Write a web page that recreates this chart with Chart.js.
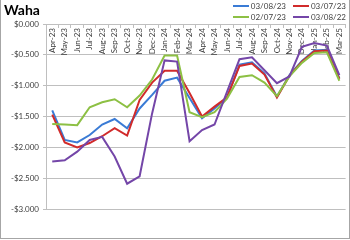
<!DOCTYPE html>
<html>
<head>
<meta charset="utf-8">
<script src="https://cdn.jsdelivr.net/npm/chart.js@4/dist/chart.umd.min.js"></script>
<style>
  body { margin: 0; background: #fff; }
  #wrap { position: relative; width: 350px; height: 240px; font-family: Lato, sans-serif; overflow: hidden; }
  #frame { position: absolute; left: 0; top: -1px; width: 350px; height: 240px; box-sizing: border-box; border: 1px solid #a6a6a6; pointer-events: none; }
  #title { position: absolute; left: 4px; top: 1px; font-weight: bold; font-size: 14px; line-height: 18px; color: #000; }
  #legend { position: absolute; right: 4px; top: 1px; display: grid; grid-template-columns: auto auto; column-gap: 7px; font-size: 8px; line-height: 10.5px; color: #404040; }
  .item { display: flex; align-items: center; }
  .swatch { width: 16px; height: 2px; margin-right: 2px; }
</style>
</head>
<body>
<div id="wrap">
  <canvas id="chart" width="350" height="240"></canvas>
  <div id="title">Waha</div>
  <div id="legend"></div>
  <div id="frame"></div>
</div>
<script>
// --- DATI ---
const months = ['Apr-23', 'May-23', 'Jun-23', 'Jul-23', 'Aug-23', 'Sep-23', 'Oct-23', 'Nov-23',
    'Dec-23', 'Jan-24', 'Feb-24', 'Mar-24', 'Apr-24', 'May-24', 'Jun-24', 'Jul-24', 'Aug-24',
    'Sep-24', 'Oct-24', 'Nov-24', 'Dec-24', 'Jan-25', 'Feb-25', 'Mar-25'];

const seriesNames = ['03/08/23', '03/07/23', '02/07/23', '03/08/22'];
const seriesColors = ['#3a7bd5', '#d12b2b', '#8dc044', '#7446a8'];

const curve030823 = [-1.40, -1.88, -1.92, -1.80, -1.63, -1.54, -1.69, -1.37, -1.15, -0.92, -0.87, -1.20,
    -1.53, -1.37, -1.19, -0.66, -0.62, -0.80, -1.18, -0.83, -0.60, -0.43, -0.42, -0.88];
const curve030723 = [-1.47, -1.92, -2.00, -1.93, -1.82, -1.69, -1.81, -1.23, -0.95, -0.76, -0.76, -1.12,
    -1.50, -1.34, -1.19, -0.68, -0.64, -0.82, -1.19, -0.84, -0.61, -0.44, -0.43, -0.89];
const curve020723 = [-1.62, -1.63, -1.64, -1.35, -1.27, -1.22, -1.35, -1.16, -0.90, -0.51, -0.51, -1.43,
    -1.51, -1.43, -1.21, -0.86, -0.83, -0.95, -1.17, -0.85, -0.63, -0.47, -0.46, -0.92];
const curve030822 = [-2.23, -2.21, -2.07, -1.88, -1.83, -2.15, -2.59, -2.47, -1.45, -0.59, -0.61, -1.90,
    -1.72, -1.63, -1.10, -0.57, -0.54, -0.75, -0.96, -0.85, -0.37, -0.31, -0.35, -0.83];

const curves = [curve030823, curve030723, curve020723, curve030822];

// --- GRAFICO ---
Chart.defaults.font.family = 'Lato, sans-serif';
Chart.defaults.font.size = 8;
Chart.defaults.color = '#404040';

const gridColor = '#bfbfbf';

const datasets = curves.map((data, i) => ({
    label: seriesNames[i],
    data: data,
    borderColor: seriesColors[i],
    backgroundColor: seriesColors[i],
    borderWidth: 2,
    pointRadius: 0,
    tension: 0,
    fill: false,
    order: curves.length - i   // l'ultima serie sta sopra, come in Excel
}));

const chart = new Chart(document.getElementById('chart').getContext('2d'), {
    type: 'line',
    data: { labels: months, datasets: datasets },
    options: {
        responsive: false,
        animation: false,
        layout: { padding: { top: 24, right: 2, bottom: 31, left: 0 } },
        plugins: { legend: { display: false }, tooltip: { enabled: false } },
        scales: {
            x: {
                position: { y: 0 },
                offset: true,
                grid: { drawOnChartArea: false, drawTicks: true, tickLength: 3, color: gridColor, offset: true },
                border: { color: gridColor },
                ticks: { minRotation: 90, maxRotation: 90, autoSkip: false, padding: 1 }
            },
            y: {
                min: -3,
                max: 0,
                afterFit: s => { s.width = 46; },
                grid: { color: gridColor, tickLength: 3 },
                border: { color: gridColor },
                ticks: {
                    stepSize: 0.5,
                    padding: 4,
                    callback: v => (v < 0 ? '-$' : '$') + Math.abs(v).toFixed(3)
                }
            }
        }
    }
});

// --- LEGENDA HTML (2 righe x 2) ---
const legendEl = document.getElementById('legend');
chart.data.datasets.forEach(ds => {
    const item = document.createElement('div');
    item.className = 'item';
    const sw = document.createElement('span');
    sw.className = 'swatch';
    sw.style.background = ds.borderColor;
    const txt = document.createElement('span');
    txt.textContent = ds.label;
    item.appendChild(sw);
    item.appendChild(txt);
    legendEl.appendChild(item);
});
</script>
</body>
</html>
